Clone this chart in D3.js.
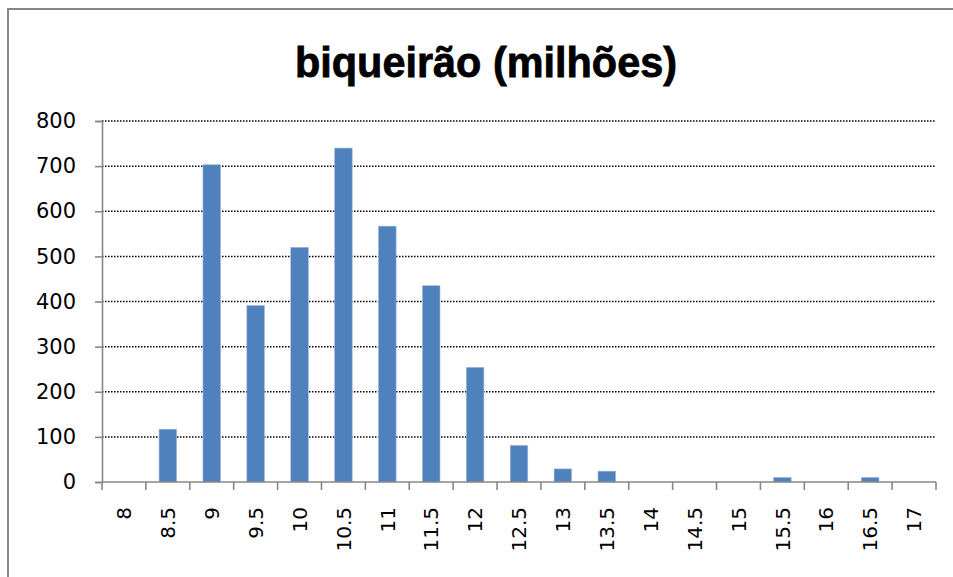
<!DOCTYPE html>
<html>
<head>
<meta charset="utf-8">
<script src="https://cdn.jsdelivr.net/npm/d3@7"></script>
<style>
  html, body { margin: 0; padding: 0; background: #fff; }
  svg { display: block; }
</style>
</head>
<body>
<script>
// Catch by length class (cm), in millions of fish
const categories = ["8", "8.5", "9", "9.5", "10", "10.5", "11", "11.5", "12", "12.5",
                    "13", "13.5", "14", "14.5", "15", "15.5", "16", "16.5", "17"];
const values = [0, 117, 703, 391, 520, 740, 567, 435, 254, 81,
                29, 24, 0, 0, 0, 10, 0, 10, 0];
const yTicks = [0, 100, 200, 300, 400, 500, 600, 700, 800];
const title = "biqueirão (milhões)";

const W = 953, H = 577;
const plot = { left: 102, right: 936, top: 121, bottom: 482 };

const svg = d3.select("body").append("svg")
  .attr("width", W).attr("height", H);

// chart frame
svg.append("rect")
  .attr("x", 8).attr("y", 9)
  .attr("width", 960).attr("height", 600)
  .attr("fill", "#fff")
  .attr("stroke", "#878787").attr("stroke-width", 2);

const x = d3.scaleBand()
  .domain(categories)
  .range([plot.left, plot.right])
  .paddingInner(0.6)
  .paddingOuter(0.3);

const y = d3.scaleLinear()
  .domain([0, 800])
  .range([plot.bottom, plot.top]);

// horizontal dotted gridlines
svg.append("g")
  .selectAll("line")
  .data(yTicks.filter(d => d > 0))
  .join("line")
  .attr("x1", plot.left).attr("x2", plot.right)
  .attr("y1", d => y(d)).attr("y2", d => y(d))
  .attr("stroke", "#000")
  .attr("stroke-width", 1.5)
  .attr("stroke-dasharray", "1.5,1.5");

// bars
svg.append("g")
  .selectAll("rect")
  .data(values.map((v, i) => ({ cat: categories[i], v })))
  .join("rect")
  .attr("x", d => x(d.cat))
  .attr("width", x.bandwidth())
  .attr("y", d => y(d.v))
  .attr("height", d => y(0) - y(d.v))
  .attr("fill", "#4f81bd")
  .attr("stroke", "#9fb8dc")
  .attr("stroke-width", d => d.v > 0 ? 0.6 : 0);

// y axis
const yAxis = svg.append("g")
  .attr("transform", `translate(${plot.left},0)`)
  .call(d3.axisLeft(y).tickValues(yTicks).tickSize(7).tickPadding(19).tickFormat(d3.format("d")));
yAxis.selectAll("path, line").attr("stroke", "#878787").attr("stroke-width", 1.6);
yAxis.selectAll("text")
  .attr("font-family", "'DejaVu Sans', sans-serif")
  .attr("font-size", 21)
  .attr("fill", "#000");

// x axis: ticks sit on category boundaries
const step = x.step();
const boundaries = d3.range(categories.length + 1).map(i => plot.left + i * step);
const xAxis = svg.append("g");
xAxis.append("line")
  .attr("x1", plot.left).attr("x2", plot.right)
  .attr("y1", plot.bottom).attr("y2", plot.bottom)
  .attr("stroke", "#878787").attr("stroke-width", 1.6);
xAxis.selectAll("line.tick")
  .data(boundaries)
  .join("line")
  .attr("class", "tick")
  .attr("x1", d => d).attr("x2", d => d)
  .attr("y1", plot.bottom).attr("y2", plot.bottom + 8)
  .attr("stroke", "#878787").attr("stroke-width", 1.6);
xAxis.selectAll("text")
  .data(categories)
  .join("text")
  .attr("transform", d => `translate(${x(d) + x.bandwidth() / 2},507) rotate(-90)`)
  .attr("dy", "0.36em")
  .attr("text-anchor", "end")
  .attr("font-family", "'DejaVu Sans', sans-serif")
  .attr("font-size", 20)
  .attr("fill", "#000")
  .text(d => d);

// title
svg.append("text")
  .attr("x", 486).attr("y", 77)
  .attr("text-anchor", "middle")
  .attr("font-family", "'Liberation Sans', Arial, sans-serif")
  .attr("font-weight", "bold")
  .attr("font-size", 43)
  .attr("textLength", 382)
  .attr("lengthAdjust", "spacingAndGlyphs")
  .attr("fill", "#000")
  .attr("stroke", "#000")
  .attr("stroke-width", 0.8)
  .text(title);
</script>
</body>
</html>
